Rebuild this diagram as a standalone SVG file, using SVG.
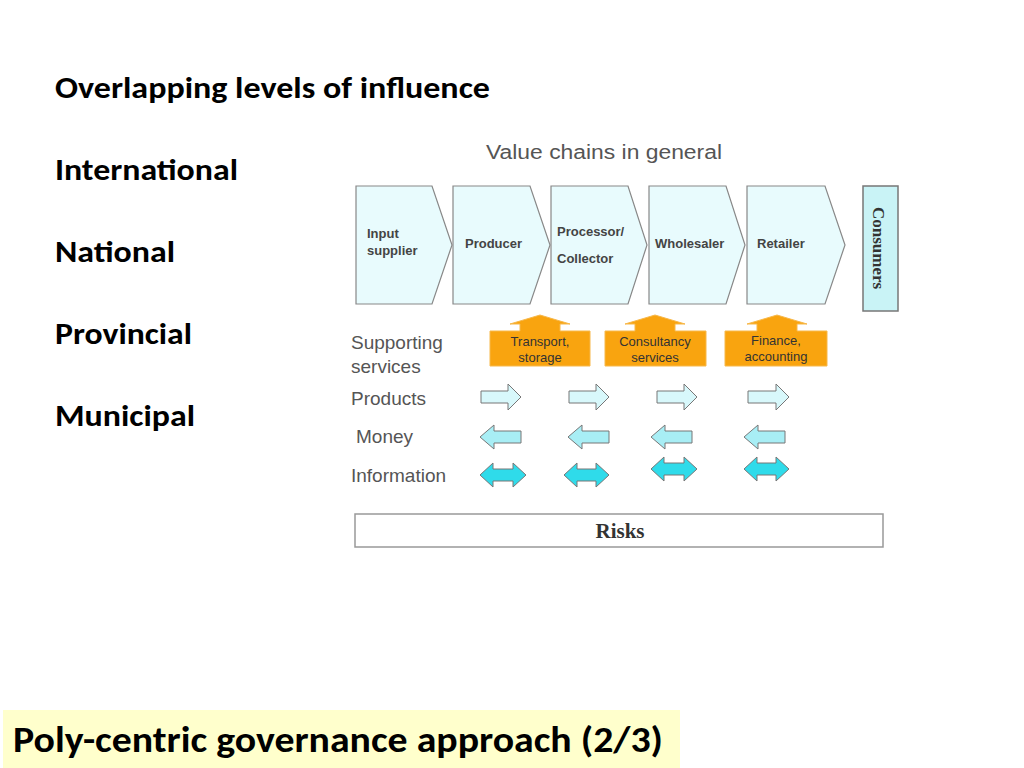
<svg xmlns="http://www.w3.org/2000/svg" width="1024" height="768" viewBox="0 0 1024 768">
<style>
.h{font-family:Calibri,"Carlito","Liberation Sans",sans-serif;font-weight:bold;font-size:30px;fill:#000}
.s{font-family:"Liberation Sans",Arial,sans-serif;font-size:19px;fill:#555}
.n{font-family:"Liberation Sans",Arial,sans-serif;font-size:13px;font-weight:bold;fill:#444}
.o{font-family:"Liberation Sans",Arial,sans-serif;font-size:13px;fill:#333;text-anchor:middle}
.chev{fill:#e8fbfd;stroke:#888;stroke-width:1.2}
.org{fill:#f9a40f;stroke:#f7b84a}
.p{fill:#d8f8fb;stroke:#777}
.m{fill:#a8eef5;stroke:#777}
.i{fill:#2fdbea;stroke:#777}
</style>
<rect width="1024" height="768" fill="#fff"/>
<text x="55" y="98" class="h" textLength="435" lengthAdjust="spacingAndGlyphs">Overlapping levels of influence</text>
<text x="55" y="180" class="h" textLength="183" lengthAdjust="spacingAndGlyphs">International</text>
<text x="55" y="262" class="h" textLength="120" lengthAdjust="spacingAndGlyphs">National</text>
<text x="55" y="344" class="h" textLength="137" lengthAdjust="spacingAndGlyphs">Provincial</text>
<text x="55" y="426" class="h" textLength="140" lengthAdjust="spacingAndGlyphs">Municipal</text>
<text x="486" y="159" class="s" style="font-size:20px" textLength="236" lengthAdjust="spacingAndGlyphs">Value chains in general</text>
<g id="input"><path class="chev" d="M356,186H432L452,245L432,304H356Z"/><text x="367" y="238" class="n">Input</text><text x="367" y="255" class="n">supplier</text></g>
<g id="producer"><path class="chev" d="M453,186H530L550,245L530,304H453Z"/><text x="465" y="248" class="n">Producer</text></g>
<g id="processor"><path class="chev" d="M551,186H628L647,245L628,304H551Z"/><text x="557" y="236" class="n">Processor/</text><text x="557" y="263" class="n">Collector</text></g>
<g id="wholesaler"><path class="chev" d="M649,186H726L745,245L726,304H649Z"/><text x="655" y="248" class="n">Wholesaler</text></g>
<g id="retailer"><path class="chev" d="M747,186H825L845,245L825,304H747Z"/><text x="757" y="248" class="n">Retailer</text></g>
<g id="consumers"><rect x="863" y="186" width="35" height="125" fill="#c9f3f6" stroke="#777" stroke-width="1.5"/><text transform="translate(873,248) rotate(90)" text-anchor="middle" font-family="Liberation Serif,serif" font-weight="bold" font-size="17" fill="#333">Consumers</text></g>
<text x="351" y="349" class="s">Supporting</text>
<text x="351" y="373" class="s">services</text>
<text x="351" y="405" class="s">Products</text>
<text x="356" y="443" class="s">Money</text>
<text x="351" y="482" class="s">Information</text>
<g id="transport"><path class="org" d="M490,331H520V324H510L540,315L570,324H560V331H590V366H490Z"/><text x="540" y="346" class="o">Transport,</text><text x="540" y="362" class="o">storage</text></g>
<g id="consultancy"><path class="org" d="M605,331H635V324H625L655,315L685,324H675V331H706V366H605Z"/><text x="655" y="346" class="o">Consultancy</text><text x="655" y="362" class="o">services</text></g>
<g id="finance"><path class="org" d="M725,331H757V324H747L777,315L807,324H797V331H827V366H725Z"/><text x="776" y="345" class="o">Finance,</text><text x="776" y="361" class="o">accounting</text></g>
<g id="connectors">
<path class="p" d="M481,391H508V384L521,397L508,410V403H481Z"/>
<path class="p" d="M569,391H596V384L609,397L596,410V403H569Z"/>
<path class="p" d="M657,391H684V384L697,397L684,410V403H657Z"/>
<path class="p" d="M748,391H776V384L789,397L776,410V403H748Z"/>
<path class="m" d="M521,431H494V425L480,437L494,449V443H521Z"/>
<path class="m" d="M609,431H582V425L568,437L582,449V443H609Z"/>
<path class="m" d="M692,431H665V425L651,437L665,449V443H692Z"/>
<path class="m" d="M785,431H758V425L744,437L758,449V443H785Z"/>
<path class="i" d="M480,475L493,463V469H513V463L526,475L513,487V481H493V487Z"/>
<path class="i" d="M564,475L577,463V469H596V463L609,475L596,487V481H577V487Z"/>
<path class="i" d="M651,469L664,457V463H684V457L697,469L684,481V475H664V481Z"/>
<path class="i" d="M744,469L757,457V463H776V457L789,469L776,481V475H757V481Z"/>
</g>
<g id="risks"><rect x="355" y="514" width="528" height="33" fill="#fff" stroke="#999" stroke-width="1.5"/><text x="620" y="538" text-anchor="middle" font-family="Liberation Serif,serif" font-weight="bold" font-size="21" fill="#333">Risks</text></g>
<rect x="3" y="710" width="677" height="58" fill="#ffffcc"/>
<text x="13" y="752" class="h" style="font-size:36px" textLength="650" lengthAdjust="spacingAndGlyphs">Poly-centric governance approach (2/3)</text>
</svg>
